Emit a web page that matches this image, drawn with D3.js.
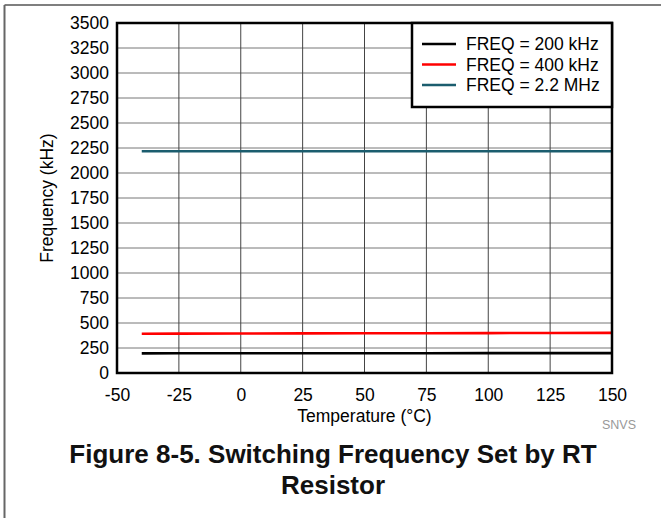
<!DOCTYPE html>
<html>
<head>
<meta charset="utf-8">
<script src="https://cdn.jsdelivr.net/npm/d3@7/dist/d3.min.js"></script>
<style>
  html, body { margin: 0; padding: 0; background: #fff; }
  svg { display: block; font-family: "Liberation Sans", Arial, Helvetica, sans-serif; }
</style>
</head>
<body>
<svg id="chart" width="661" height="518"></svg>
<script>
// ---- data ----
const temperatures = [-40, -25, 0, 25, 50, 75, 100, 125, 150];
const freq200 = [196, 197, 197, 198, 198, 198, 199, 199, 199];
const freq400 = [393, 394, 395, 396, 397, 398, 399, 400, 401];
const freq2200 = [2218, 2218, 2218, 2218, 2218, 2218, 2218, 2218, 2218];
const seriesNames = ["FREQ = 200 kHz", "FREQ = 400 kHz", "FREQ = 2.2 MHz"];
const seriesColors = ["#000000", "#ff0000", "#1b5d6e"];
const xTicks = [-50, -25, 0, 25, 50, 75, 100, 125, 150];
const yTicks = [0, 250, 500, 750, 1000, 1250, 1500, 1750, 2000, 2250, 2500, 2750, 3000, 3250, 3500];
const xLabel = "Temperature (°C)";
const yLabel = "Frequency (kHz)";
const titleLines = ["Figure 8-5. Switching Frequency Set by RT", "Resistor"];
const sourceNote = "SNVS";

const series = [freq200, freq400, freq2200].map((vals, i) => ({
  name: seriesNames[i], color: seriesColors[i],
  points: temperatures.map((t, j) => ({ x: t, y: vals[j] }))
}));

const svg = d3.select("#chart");
const L = 117, R = 612, T = 23, B = 373;
const x = d3.scaleLinear().domain([-50, 150]).range([L, R]);
const y = d3.scaleLinear().domain([0, 3500]).range([B, T]);
const plain = d => String(d).replace("\u2212", "-");

// outer frame
svg.append("line").attr("x1", 4.5).attr("x2", 661).attr("y1", 5).attr("y2", 5)
  .attr("stroke", "#555").attr("stroke-width", 1.5);
svg.append("line").attr("x1", 4.5).attr("x2", 4.5).attr("y1", 5).attr("y2", 518)
  .attr("stroke", "#666").attr("stroke-width", 2);

// grid
const g = svg.append("g");
g.selectAll("line.h").data(yTicks).join("line")
  .attr("x1", L).attr("x2", R).attr("y1", d => y(d)).attr("y2", d => y(d))
  .attr("stroke", "#777").attr("stroke-width", 1);
g.selectAll("line.v").data(xTicks).join("line")
  .attr("y1", T).attr("y2", B).attr("x1", d => x(d)).attr("x2", d => x(d))
  .attr("stroke", "#444").attr("stroke-width", 1);

// axes (tick labels via d3 axes)
const fs = "17.5px";
const xAxis = svg.append("g").attr("transform", `translate(0,${B})`)
  .call(d3.axisBottom(x).tickValues(xTicks).tickFormat(plain).tickSize(0).tickPadding(16));
xAxis.select(".domain").remove();
xAxis.selectAll("text").attr("font-size", fs).attr("fill", "#000")
  .attr("font-family", "Liberation Sans, Arial, sans-serif");

const yAxis = svg.append("g").attr("transform", `translate(${L},0)`)
  .call(d3.axisLeft(y).tickValues(yTicks).tickFormat(plain).tickSize(0).tickPadding(8));
yAxis.select(".domain").remove();
yAxis.selectAll("text").attr("font-size", fs).attr("fill", "#000")
  .attr("font-family", "Liberation Sans, Arial, sans-serif");

// series lines
const line = d3.line().x(d => x(d.x)).y(d => y(d.y));
svg.append("g").selectAll("path").data(series).join("path")
  .attr("d", d => line(d.points))
  .attr("fill", "none").attr("stroke", d => d.color).attr("stroke-width", 2.6);

// plot frame
svg.append("rect").attr("x", L).attr("y", T).attr("width", R - L).attr("height", B - T)
  .attr("fill", "none").attr("stroke", "#000").attr("stroke-width", 2.5);

// legend
const lg = svg.append("g");
lg.append("rect").attr("x", 412).attr("y", T).attr("width", R - 412).attr("height", 84)
  .attr("fill", "#fff").attr("stroke", "#000").attr("stroke-width", 2.5);
series.forEach((s, i) => {
  const yy = 44 + i * 20.5;
  lg.append("line").attr("x1", 422).attr("x2", 456).attr("y1", yy).attr("y2", yy)
    .attr("stroke", s.color).attr("stroke-width", 2.6);
  lg.append("text").attr("x", 466).attr("y", yy + 6).attr("font-size", fs)
    .attr("fill", "#000").text(s.name);
});

// axis labels
svg.append("text").attr("x", (L + R) / 2).attr("y", 422).attr("text-anchor", "middle")
  .attr("font-size", fs).text(xLabel);
svg.append("text").attr("transform", `translate(53,${(T + B) / 2}) rotate(-90)`)
  .attr("text-anchor", "middle").attr("font-size", fs).text(yLabel);

// source note
svg.append("text").attr("x", 636).attr("y", 429).attr("text-anchor", "end")
  .attr("font-size", "12.5px").attr("fill", "#999").text(sourceNote);

// title
titleLines.forEach((t, i) => {
  svg.append("text").attr("x", 333).attr("y", 463 + i * 31).attr("text-anchor", "middle")
    .attr("font-size", "26px").attr("font-weight", "bold").attr("fill", "#111").text(t);
});
</script>
</body>
</html>
